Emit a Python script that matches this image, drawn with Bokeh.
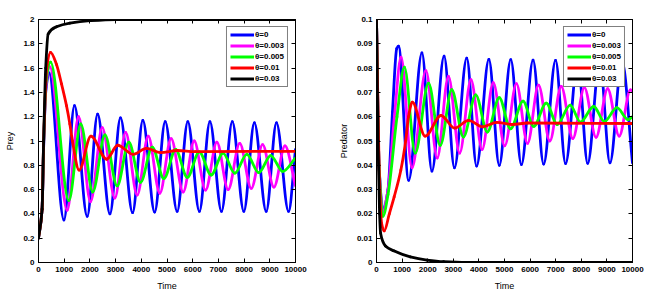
import numpy as np
from bokeh.plotting import figure
from bokeh.models import Range1d, FixedTicker, LinearAxis, Legend, LegendItem
from bokeh.layouts import row
from bokeh.embed import file_html
from bokeh.resources import INLINE

# ---------------- data ----------------
time_ticks = [0, 1000, 2000, 3000, 4000, 5000, 6000, 7000, 8000, 9000, 10000]
time_tick_labels = ["0", "1000", "2000", "3000", "4000", "5000", "6000", "7000", "8000", "9000", "10000"]
prey_ticks = [0, 0.2, 0.4, 0.6, 0.8, 1, 1.2, 1.4, 1.6, 1.8, 2]
prey_tick_labels = ["0", "0.2", "0.4", "0.6", "0.8", "1", "1.2", "1.4", "1.6", "1.8", "2"]
pred_ticks = [0, 0.01, 0.02, 0.03, 0.04, 0.05, 0.06, 0.07, 0.08, 0.09, 0.1]
pred_tick_labels = ["0", "0.01", "0.02", "0.03", "0.04", "0.05", "0.06", "0.07", "0.08", "0.09", "0.1"]
legend_labels = ["\u03b8=0", "\u03b8=0.003", "\u03b8=0.005", "\u03b8=0.01", "\u03b8=0.03"]

# Prey, theta = 0
prey_t_0 = [0, 140, 200, 280, 410, 990, 1400, 1895, 2300, 2780, 3190, 3660, 4060, 4520, 4930, 5395,
            5810, 6260, 6670, 7120, 7540, 7990, 8400, 8860, 9260, 9730, 10000]
prey_v_0 = [0.2, 0.44, 0.95, 1.4, 1.56, 0.35, 1.29, 0.38, 1.22, 0.40, 1.19, 0.41, 1.17, 0.415, 1.16, 0.42,
            1.16, 0.42, 1.16, 0.42, 1.16, 0.42, 1.15, 0.42, 1.15, 0.42, 0.93]
# Prey, theta = 0.003
prey_t_003 = [0, 140, 200, 290, 440, 1115, 1560, 2025, 2480, 2970, 3390, 3840, 4270, 4720, 5160, 5630,
              6060, 6500, 6940, 7380, 7830, 8280, 8720, 9160, 9590, 10000]
prey_v_003 = [0.2, 0.44, 0.97, 1.45, 1.61, 0.43, 1.20, 0.50, 1.11, 0.53, 1.07, 0.555, 1.04, 0.57, 1.02, 0.58,
              1.0, 0.595, 0.99, 0.60, 0.98, 0.61, 0.97, 0.62, 0.96, 0.63]
# Prey, theta = 0.005
prey_t_005 = [0, 140, 200, 300, 470, 1180, 1645, 2110, 2585, 3060, 3515, 3970, 4425, 4880, 5335, 5790,
              6255, 6720, 7180, 7640, 8105, 8570, 9035, 9500, 10000]
prey_v_005 = [0.2, 0.44, 0.98, 1.5, 1.65, 0.51, 1.14, 0.58, 1.05, 0.63, 0.99, 0.66, 0.95, 0.69, 0.93, 0.70,
              0.91, 0.72, 0.90, 0.735, 0.89, 0.74, 0.88, 0.75, 0.86]
# Prey, theta = 0.01
prey_t_01 = [0, 140, 200, 320, 467, 700, 895, 1090, 1220, 1320, 1580, 2040, 2650, 3080, 3680, 4200,
             4750, 5400, 6100, 10000]
prey_v_01 = [0.2, 0.44, 1.0, 1.6, 1.73, 1.63, 1.47, 1.29, 1.14, 1.0, 0.76, 1.04, 0.85, 0.965, 0.89, 0.94,
             0.905, 0.922, 0.913, 0.915]
# Prey, theta = 0.03
prey_t_03 = [0, 140, 200, 280, 375, 700, 1220, 2000, 3000, 10000]
prey_v_03 = [0.2, 0.44, 1.0, 1.6, 1.88, 1.94, 1.97, 1.99, 2.0, 2.0]

# Predator, theta = 0
pred_t_0 = [0, 100, 250, 450, 625, 790, 860, 1258, 1775, 2165, 2640, 3045, 3525, 3910, 4390, 4795, 5245,
            5660, 6115, 6530, 6995, 7385, 7860, 8250, 8720, 9120, 9590, 10000]
pred_v_0 = [0.1, 0.04, 0.022, 0.03, 0.062, 0.088, 0.089, 0.0338, 0.0863, 0.0376, 0.0849, 0.039, 0.0841,
            0.0397, 0.0836, 0.040, 0.0835, 0.0403, 0.0833, 0.0405, 0.0832, 0.0407, 0.0831, 0.0408, 0.0831,
            0.041, 0.083, 0.041]
# Predator, theta = 0.003
pred_t_003 = [0, 100, 250, 450, 700, 960, 1387, 1930, 2370, 2810, 3250, 3690, 4125, 4560, 5010, 5465, 5900,
              6330, 6770, 7215, 7670, 8120, 8575, 9030, 9480, 9920, 10000]
pred_v_003 = [0.1, 0.04, 0.021, 0.03, 0.06, 0.0845, 0.039, 0.079, 0.043, 0.0766, 0.045, 0.0752, 0.0465,
              0.074, 0.048, 0.0736, 0.049, 0.073, 0.050, 0.0725, 0.051, 0.072, 0.0515, 0.0715, 0.052,
              0.071, 0.0705]
# Predator, theta = 0.005
pred_t_005 = [0, 100, 250, 450, 800, 1090, 1510, 2035, 2490, 2940, 3395, 3875, 4330, 4795, 5235, 5725,
              6140, 6630, 7060, 7565, 7965, 8485, 8900, 9390, 9830, 10000]
pred_v_005 = [0.1, 0.04, 0.019, 0.028, 0.06, 0.0804, 0.045, 0.0738, 0.0482, 0.0711, 0.0516, 0.069,
              0.0537, 0.0678, 0.055, 0.0664, 0.056, 0.0656, 0.0568, 0.0648, 0.0578, 0.0642, 0.058,
              0.0637, 0.0588, 0.060]
# Predator, theta = 0.01
pred_t_01 = [0, 100, 200, 300, 500, 690, 950, 1140, 1250, 1400, 1900, 2520, 3050, 3600, 4150, 4700,
             5300, 5900, 10000]
pred_v_01 = [0.1, 0.04, 0.016, 0.013, 0.02, 0.027, 0.038, 0.050, 0.060, 0.066, 0.052, 0.0605, 0.0553,
             0.0585, 0.0558, 0.0577, 0.0568, 0.0574, 0.0572]
# Predator, theta = 0.03
pred_t_03 = [0, 60, 120, 160, 350, 675, 1320, 1970, 2620, 3500, 10000]
pred_v_03 = [0.1, 0.05, 0.02, 0.012, 0.0068, 0.0048, 0.0023, 0.001, 0.0003, 0.0, 0.0]

COLORS = ["#0000ff", "#ff00ff", "#00ff00", "#ff0000", "#000000"]
FONT = "Liberation Sans"


def slopes(t, v):
    t = np.asarray(t, float)
    v = np.asarray(v, float)
    h = np.diff(t)
    d = np.diff(v) / h
    m = np.zeros(len(t))
    m[0] = d[0]
    m[-1] = d[-1]
    for k in range(1, len(t) - 1):
        if d[k - 1] * d[k] > 0:
            w1 = 2 * h[k] + h[k - 1]
            w2 = h[k] + 2 * h[k - 1]
            m[k] = (w1 + w2) / (w1 / d[k - 1] + w2 / d[k])
    return t, v, h, m


def draw_curve(p, t, v, color, lw=2.8):
    t, v, h, m = slopes(t, v)
    p.bezier(x0=t[:-1], y0=v[:-1], x1=t[1:], y1=v[1:],
             cx0=t[:-1] + h / 3, cy0=v[:-1] + m[:-1] * h / 3,
             cx1=t[1:] - h / 3, cy1=v[1:] - m[1:] * h / 3,
             line_color=color, line_width=lw, line_cap="round")


def make_fig(width, yr, yticks, ylabels, ylabel, border_left, border_right, border_top):
    p = figure(width=width, height=299, output_backend="svg", toolbar_location=None,
               x_range=Range1d(0, 10000), y_range=Range1d(*yr),
               min_border_left=border_left, min_border_right=border_right,
               min_border_top=border_top, min_border_bottom=37)
    p.xgrid.visible = False
    p.ygrid.visible = False
    p.outline_line_color = "black"
    p.outline_line_width = 1
    p.background_fill_color = "white"
    p.border_fill_color = "white"
    p.xaxis.ticker = FixedTicker(ticks=time_ticks)
    p.xaxis.major_label_overrides = dict(zip(time_ticks, time_tick_labels))
    p.yaxis.ticker = FixedTicker(ticks=yticks)
    p.yaxis.major_label_overrides = dict(zip(yticks, ylabels))
    p.xaxis.axis_label = "Time"
    p.yaxis.axis_label = ylabel
    for ax in (p.xaxis[0], p.yaxis[0]):
        ax.major_tick_in = 4
        ax.major_tick_out = 0
        ax.minor_tick_line_color = None
        ax.axis_line_color = "black"
        ax.major_label_text_font = FONT
        ax.major_label_text_font_size = "8px"
        ax.major_label_text_font_style = "bold"
        ax.major_label_text_color = "black"
        ax.axis_label_text_font = FONT
        ax.axis_label_text_font_size = "9px"
        ax.axis_label_text_font_style = "normal"
        ax.axis_label_text_color = "black"
        ax.major_label_standoff = 4
    p.xaxis.axis_label_standoff = 6
    p.yaxis.axis_label_standoff = 5
    top = LinearAxis(ticker=FixedTicker(ticks=time_ticks),
                     major_label_overrides={t: "" for t in time_ticks},
                     major_tick_in=4, major_tick_out=0, minor_tick_line_color=None,
                     major_label_standoff=0)
    right = LinearAxis(ticker=FixedTicker(ticks=yticks),
                       major_label_overrides={t: "" for t in yticks},
                       major_tick_in=4, major_tick_out=0, minor_tick_line_color=None,
                       major_label_standoff=0)
    p.add_layout(top, "above")
    p.add_layout(right, "right")
    return p


def add_legend(p, series_t, series_v):
    items = []
    for lab, c, t, v in zip(legend_labels, COLORS, series_t, series_v):
        # single-point line: draws nothing in the plot, only provides the legend sample
        r = p.line(x=t[:1], y=v[:1], line_color=c, line_width=3)
        items.append(LegendItem(label=lab, renderers=[r]))
    leg = Legend(items=items, location="top_right", margin=7, padding=3, spacing=2,
                 glyph_width=24, glyph_height=9, label_height=9, label_standoff=1,
                 label_text_font=FONT, label_text_font_size="8px", label_text_font_style="bold",
                 label_text_color="black",
                 border_line_color="black", border_line_width=1, background_fill_alpha=1)
    p.add_layout(leg)


prey_t = [prey_t_0, prey_t_003, prey_t_005, prey_t_01, prey_t_03]
prey_v = [prey_v_0, prey_v_003, prey_v_005, prey_v_01, prey_v_03]
pred_t = [pred_t_0, pred_t_003, pred_t_005, pred_t_01, pred_t_03]
pred_v = [pred_v_0, pred_v_003, pred_v_005, pred_v_01, pred_v_03]

p1 = make_fig(335, (0, 2), prey_ticks, prey_tick_labels, "Prey", 38, 40, 18)
for t, v, c in zip(prey_t, prey_v, COLORS):
    draw_curve(p1, t, v, c)
add_legend(p1, prey_t, prey_v)

p2 = make_fig(318, (0, 0.1), pred_ticks, pred_tick_labels, "Predator", 39, 21, 19)
for t, v, c in zip(pred_t, pred_v, COLORS):
    draw_curve(p2, t, v, c)
add_legend(p2, pred_t, pred_v)

layout = row(p1, p2)
open("out.html", "w").write(file_html(layout, INLINE))
